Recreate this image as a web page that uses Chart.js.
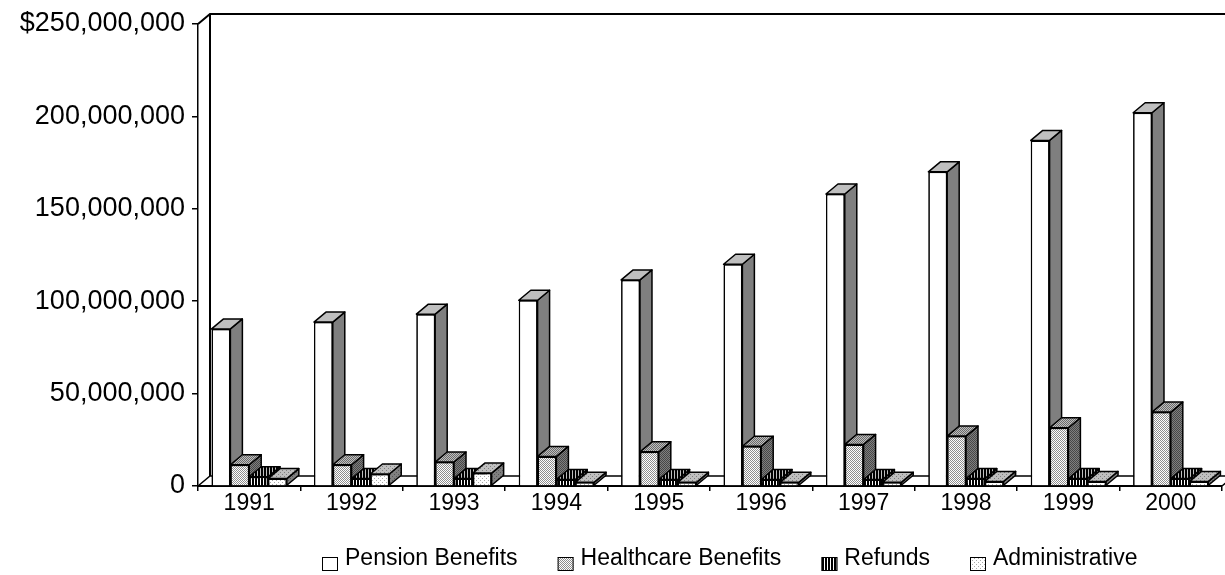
<!DOCTYPE html>
<html>
<head>
<meta charset="utf-8">
<title>Benefit payments 1991-2000</title>
<script src="https://cdn.jsdelivr.net/npm/chart.js@4.4.0/dist/chart.umd.min.js"></script>
<style>
  html, body { margin: 0; padding: 0; background: #fff; }
  #chart { display: block; }
</style>
</head>
<body>
<canvas id="chart" width="1225" height="575"></canvas>
<script>
// --- Data (dollars) ---
const years = ['1991', '1992', '1993', '1994', '1995', '1996', '1997', '1998', '1999', '2000'];
const pensionBenefits    = [85e6, 88.7e6, 93e6, 100.5e6, 111.5e6, 120e6, 158e6, 170e6, 187e6, 202e6];
const healthcareBenefits = [11.5e6, 11.5e6, 13e6, 16e6, 18.5e6, 21.5e6, 22.5e6, 27e6, 31.5e6, 40e6];
const refunds            = [5e6, 4e6, 4e6, 3.5e6, 3.5e6, 3.5e6, 3.5e6, 4e6, 4e6, 4e6];
const administrative     = [4e6, 6.5e6, 7e6, 2e6, 2e6, 2e6, 2e6, 2.5e6, 2.5e6, 2.5e6];
const seriesNames = ['Pension Benefits', 'Healthcare Benefits', 'Refunds', 'Administrative'];
const yTicks = [0, 50e6, 100e6, 150e6, 200e6, 250e6];

// depth of the 3D boxes / walls (px)
const DX = 12, DY = -10;
const FONT = "'Liberation Sans', Arial, sans-serif";

const canvas = document.getElementById('chart');
const ctx = canvas.getContext('2d');

// small repeating fills, like the old Excel patterns
function makePattern(w, h, paint) {
  const c = document.createElement('canvas');
  c.width = w; c.height = h;
  const g = c.getContext('2d');
  g.fillStyle = '#fff';
  g.fillRect(0, 0, w, h);
  paint(g);
  return ctx.createPattern(c, 'repeat');
}

const fills = [
  '#ffffff',
  makePattern(2, 2, g => {
    g.fillStyle = '#8e8e8e';
    g.fillRect(0, 0, 1, 1);
    g.fillRect(1, 1, 1, 1);
  }),
  makePattern(3, 1, g => {
    g.fillStyle = '#000';
    g.fillRect(0, 0, 2, 1);
  }),
  makePattern(4, 4, g => {
    g.fillStyle = '#a8a8a8';
    [[0,0],[2,2]].forEach(p => g.fillRect(p[0], p[1], 1, 1));
  })
];

// --- 3D faces, walls and legend ---
function face(c, pts, fill, shade) {
  c.beginPath();
  c.moveTo(pts[0][0], pts[0][1]);
  for (let i = 1; i < pts.length; i++) c.lineTo(pts[i][0], pts[i][1]);
  c.closePath();
  c.fillStyle = fill;
  c.fill();
  c.fillStyle = `rgba(0,0,0,${shade})`;
  c.fill();
  c.stroke();
}

const box3d = {
  id: 'box3d',
  beforeDatasetsDraw(chart) {
    const c = chart.ctx, a = chart.chartArea, y = chart.scales.y;
    const top = y.getPixelForValue(yTicks[yTicks.length - 1]);
    const bottom = y.getPixelForValue(0);
    c.save();
    c.strokeStyle = '#000';
    c.lineWidth = 2;
    c.beginPath();
    c.moveTo(a.left, top);
    c.lineTo(a.left + DX, top + DY);
    c.lineTo(chart.width, top + DY);
    c.moveTo(a.left + DX, top + DY);
    c.lineTo(a.left + DX, bottom + DY);
    c.stroke();
    c.lineWidth = 1.5;
    c.beginPath();
    c.moveTo(a.left, bottom);
    c.lineTo(a.left + DX, bottom + DY);
    c.lineTo(a.right + DX, bottom + DY);
    c.lineTo(a.right, bottom);
    c.stroke();
    c.restore();
  },
  // Chart.js paints datasets last-to-first; redo them left-to-right per category
  afterDatasetsDraw(chart) {
    const c = chart.ctx;
    const n = chart.data.datasets.length;
    c.save();
    c.strokeStyle = '#000';
    c.lineWidth = 1.5;
    c.lineJoin = 'round';
    for (let j = 0; j < chart.data.labels.length; j++) {
      for (let i = 0; i < n; i++) {
        const bar = chart.getDatasetMeta(i).data[j];
        const fill = chart.data.datasets[i].backgroundColor;
        bar.draw(c);
        const p = bar.getProps(['x', 'y', 'base', 'width'], true);
        const l = p.x - p.width / 2, r = p.x + p.width / 2;
        const t = Math.min(p.y, p.base), b = Math.max(p.y, p.base);
        c.strokeStyle = '#000';
        c.lineWidth = 1.5;
        face(c, [[r, t], [r + DX, t + DY], [r + DX, b + DY], [r, b]], fill, 0.5);
        face(c, [[l, t], [r, t], [r + DX, t + DY], [l + DX, t + DY]], fill, 0.25);
      }
    }
    c.restore();
  },
  afterDraw(chart) {
    const c = chart.ctx;
    c.save();
    c.font = `23px ${FONT}`;
    c.textBaseline = 'alphabetic';
    let x = 322;
    chart.data.datasets.forEach(ds => {
      c.fillStyle = ds.backgroundColor;
      c.fillRect(x, 557, 16, 14);
      c.strokeStyle = '#000';
      c.lineWidth = 1;
      c.strokeRect(x + 0.5, 557.5, 15, 13);
      x += 16 + 7;
      c.fillStyle = '#000';
      c.fillText(ds.label, x, 565);
      x += c.measureText(ds.label).width + 40;
    });
    c.restore();
  }
};

const seriesData = [pensionBenefits, healthcareBenefits, refunds, administrative];

new Chart(ctx, {
  type: 'bar',
  data: {
    labels: years,
    datasets: seriesData.map((d, i) => ({
      label: seriesNames[i],
      data: d,
      backgroundColor: fills[i],
      borderColor: '#000',
      borderWidth: 1.5,
      categoryPercentage: 0.735,
      barPercentage: 1
    }))
  },
  options: {
    responsive: false,
    animation: false,
    devicePixelRatio: 1,
    layout: { padding: { top: 24, right: 3, bottom: 0, left: 0 } },
    plugins: {
      legend: { display: false },
      tooltip: { enabled: false }
    },
    scales: {
      x: {
        grid: { drawOnChartArea: false, tickLength: 5, color: '#000', lineWidth: 1.5 },
        border: { color: '#000', width: 2 },
        ticks: { color: '#000', padding: 1, font: { family: FONT, size: 23, lineHeight: 1 } },
        afterFit: s => { s.height = 89; }
      },
      y: {
        min: 0,
        max: yTicks[yTicks.length - 1],
        afterBuildTicks: s => { s.ticks = yTicks.map(v => ({ value: v })); },
        grid: { drawOnChartArea: false, tickLength: 6, color: '#000', lineWidth: 1.5 },
        border: { color: '#000', width: 1.5 },
        ticks: {
          color: '#000',
          padding: 7,
          font: { family: FONT, size: 27 },
          callback: v => (v === yTicks[yTicks.length - 1] ? '$' : '') + v.toLocaleString('en-US')
        },
        afterFit: s => { s.width = 198; }
      }
    }
  },
  plugins: [box3d]
});
</script>
</body>
</html>
